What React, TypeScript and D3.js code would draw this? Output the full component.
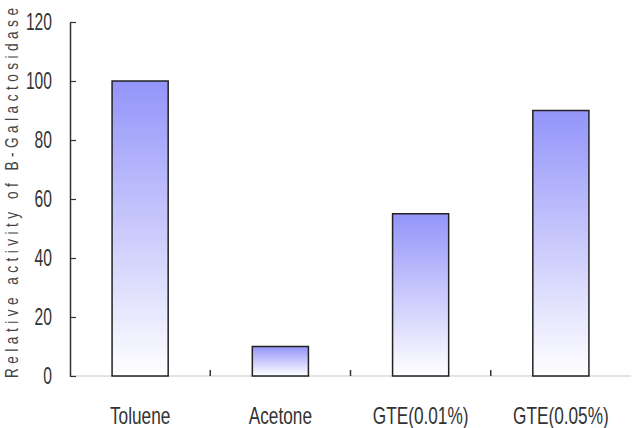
import { useRef, useEffect } from 'react';
import * as d3 from 'd3';

const categories = ['Toluene', 'Acetone', 'GTE(0.01%)', 'GTE(0.05%)'];
const values = [100, 10, 55, 90];
const yTicks = [0, 20, 40, 60, 80, 100, 120];

const FONT = '"Liberation Sans", Arial, sans-serif';

export default function App() {
  const svgRef = useRef<SVGSVGElement | null>(null);

  const width = 642;
  const height = 428;
  const margin = { top: 22, right: 11, bottom: 52, left: 70 };

  useEffect(() => {
    const svg = d3.select(svgRef.current);
    svg.selectAll('*').remove();

    const x = d3.scaleBand<string>()
      .domain(categories)
      .range([margin.left, width - margin.right])
      .paddingInner(0.6)
      .paddingOuter(0.3);
    const y = d3.scaleLinear().domain([0, 120]).range([height - margin.bottom, margin.top]);

    const defs = svg.append('defs');
    const grad = defs.append('linearGradient')
      .attr('id', 'barGrad')
      .attr('x1', 0).attr('y1', 0).attr('x2', 0).attr('y2', 1);
    grad.append('stop').attr('offset', '0%').attr('stop-color', '#9494fa');
    grad.append('stop').attr('offset', '100%').attr('stop-color', '#ffffff');

    const base = y(0);

    // baseline
    svg.append('line')
      .attr('x1', margin.left).attr('x2', width - margin.right)
      .attr('y1', base).attr('y2', base)
      .attr('stroke', '#c8c8c8').attr('stroke-width', 1);

    // category separators
    const step = x.step();
    const seps = categories.slice(1).map((c) => (x(c) as number) - (x.paddingInner() * step) / 2);
    svg.selectAll('.sep').data(seps).enter().append('line')
      .attr('x1', (d) => d).attr('x2', (d) => d)
      .attr('y1', base - 6).attr('y2', base)
      .attr('stroke', '#333').attr('stroke-width', 1.5);

    // y axis, condensed tall digits like the original
    const sx = 0.68;
    const yAxis = d3.axisLeft(y).tickValues(yTicks).tickSizeInner(-6).tickSizeOuter(0);
    const gy = svg.append('g')
      .attr('transform', `translate(${margin.left},0)`)
      .call(yAxis);
    gy.select('.domain').attr('stroke', '#333').attr('stroke-width', 1.5);
    gy.selectAll('.tick line').attr('stroke', '#333').attr('stroke-width', 1.2);
    gy.selectAll('.tick text')
      .attr('font-family', FONT)
      .attr('font-size', 23)
      .attr('fill', '#333')
      .attr('x', -18 / sx)
      .attr('transform', `scale(${sx},1)`);

    // bars
    svg.selectAll('.bar').data(values).enter().append('rect')
      .attr('x', (_d, i) => x(categories[i]) as number)
      .attr('width', x.bandwidth())
      .attr('y', (d) => y(d))
      .attr('height', (d) => base - y(d))
      .attr('fill', 'url(#barGrad)')
      .attr('stroke', '#222')
      .attr('stroke-width', 1.5);

    // x labels
    svg.selectAll('.xlab').data(categories).enter().append('text')
      .attr('transform', (d) => `translate(${(x(d) as number) + x.bandwidth() / 2},424) scale(0.75,1)`)
      .attr('text-anchor', 'middle')
      .attr('font-family', FONT)
      .attr('font-size', 23)
      .attr('fill', '#333')
      .text((d) => d);

    // y label
    const labelLen = 370;
    const lsx = 0.72;
    svg.append('text')
      .attr('transform', `translate(18,${(8 + 378) / 2}) rotate(-90) scale(${lsx},1)`)
      .attr('text-anchor', 'middle')
      .attr('font-family', FONT)
      .attr('font-size', 19)
      .attr('textLength', labelLen / lsx)
      .attr('lengthAdjust', 'spacing')
      .attr('fill', '#444')
      .text('Relative activity of B-Galactosidase');
  }, []);

  return (
    <div style={{ position: 'absolute', left: 0, top: 0 }}>
      <svg ref={svgRef} width={width} height={height} style={{ background: '#fff', display: 'block' }}></svg>
    </div>
  );
}
